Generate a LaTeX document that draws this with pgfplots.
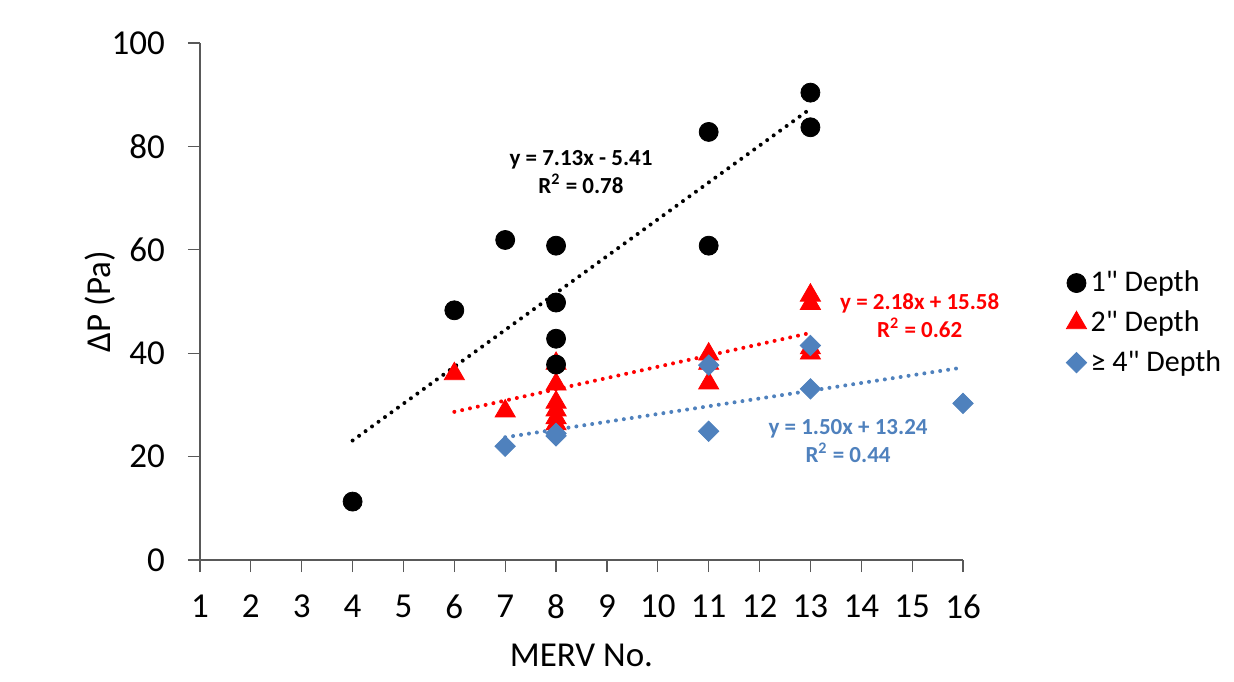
\documentclass[border=0pt]{standalone}
\usepackage{pgfplots}
\pgfplotsset{compat=1.18}
\usepackage{fontspec}
\setmainfont{Carlito}[Ligatures=TeXOff]

\definecolor{blk}{RGB}{0,0,0}
\definecolor{rd}{RGB}{255,0,0}
\definecolor{bl}{RGB}{79,129,189}
\definecolor{axcol}{RGB}{89,89,89}

\begin{document}
\begin{tikzpicture}
\path[use as bounding box] (-100pt,-60.5pt) rectangle (517pt,280pt);
\begin{axis}[
    at={(0,0)}, anchor=south west,
    scale only axis,
    width=381.5pt, height=258.5pt,
    xmin=1, xmax=16, ymin=0, ymax=100,
    xtick={1,2,...,16}, ytick={0,20,...,100},
    axis x line*=bottom, axis y line*=left,
    x axis line style={-, draw=axcol, line width=0.6pt},
    y axis line style={-, draw=axcol, line width=0.6pt},
    tick style={draw=axcol, line width=0.6pt},
    tick align=outside,
    major tick length=6pt,
    /pgf/number format/assume math mode=true,
    tick label style={font=\fontsize{17.5}{20}\selectfont},
    xticklabel style={yshift=-8pt},
    yticklabel style={xshift=-8pt},
    xlabel={MERV No.},
    ylabel={ΔP (Pa)},
    every axis x label/.style={at={(rel axis cs:0.5,0)}, anchor=center, yshift=-47.5pt, font=\fontsize{17.5}{20}\selectfont},
    every axis y label/.style={at={(rel axis cs:0,0.5)}, anchor=center, xshift=-50pt, rotate=90, font=\fontsize{17.5}{20}\selectfont},
    clip=false,
    legend style={at={(1.127,0.575)}, anchor=north west, draw=none, fill=none,
        font=\fontsize{15}{18}\selectfont, row sep=4pt,
        legend cell align=left},
]

% trendlines
\addplot[forget plot, blk, line width=2pt, line cap=round, dash pattern=on 0pt off 4pt] coordinates {(4,23.11) (13,87.28)};
\addplot[forget plot, rd, line width=2pt, line cap=round, dash pattern=on 0pt off 4pt] coordinates {(6,28.66) (13,43.92)};
\addplot[forget plot, bl, line width=2pt, line cap=round, dash pattern=on 0pt off 4pt] coordinates {(7,23.74) (16,37.24)};

% 2" Depth
\addplot[forget plot, only marks, mark=triangle*, mark size=5.8pt, color=rd] coordinates {
    (6,36.0) (7,28.8)
    (8,38.0) (8,34.0) (8,30.5) (8,29.0) (8,27.5) (8,26.3)
    (11,39.8) (11,38.0) (11,34.2)
    (13,51.2) (13,49.6) (13,41.0) (13,40.0)
};

% 1" Depth
\addplot[forget plot, only marks, mark=*, mark size=4.75pt, color=blk] coordinates {
    (4,11.3) (6,48.3) (7,61.9)
    (8,60.8) (8,49.8) (8,42.8) (8,37.8)
    (11,82.8) (11,60.8)
    (13,90.4) (13,83.7)
};

% >= 4" Depth
\addplot[forget plot, only marks, mark=square*, mark size=3.6pt, mark options={rotate=45}, color=bl] coordinates {
    (7,22.0) (8,24.5) (8,24.0)
    (11,37.7) (11,24.9)
    (13,41.5) (13,33.1)
    (16,30.3)
};

\addlegendimage{only marks, mark=*, mark size=4.75pt, color=blk}
\addlegendentry{1" Depth}
\addlegendimage{only marks, mark=triangle*, mark size=5.8pt, color=rd}
\addlegendentry{2" Depth}
\addlegendimage{only marks, mark=square*, mark size=3.6pt, mark options={rotate=45}, color=bl}
\addlegendentry{≥ 4" Depth}

% equations
\node[font=\bfseries\fontsize{11.5}{14}\selectfont, align=center, text=blk] at (axis cs:8.49,75.1) {y = 7.13x - 5.41\\R\textsuperscript{2} = 0.78};
\node[font=\bfseries\fontsize{11.5}{14}\selectfont, align=center, text=rd] at (axis cs:15.15,47.3) {y = 2.18x + 15.58\\R\textsuperscript{2} = 0.62};
\node[font=\bfseries\fontsize{11.5}{14}\selectfont, align=center, text=bl] at (axis cs:13.74,23.1) {y = 1.50x + 13.24\\R\textsuperscript{2} = 0.44};

\end{axis}
\end{tikzpicture}
\end{document}
